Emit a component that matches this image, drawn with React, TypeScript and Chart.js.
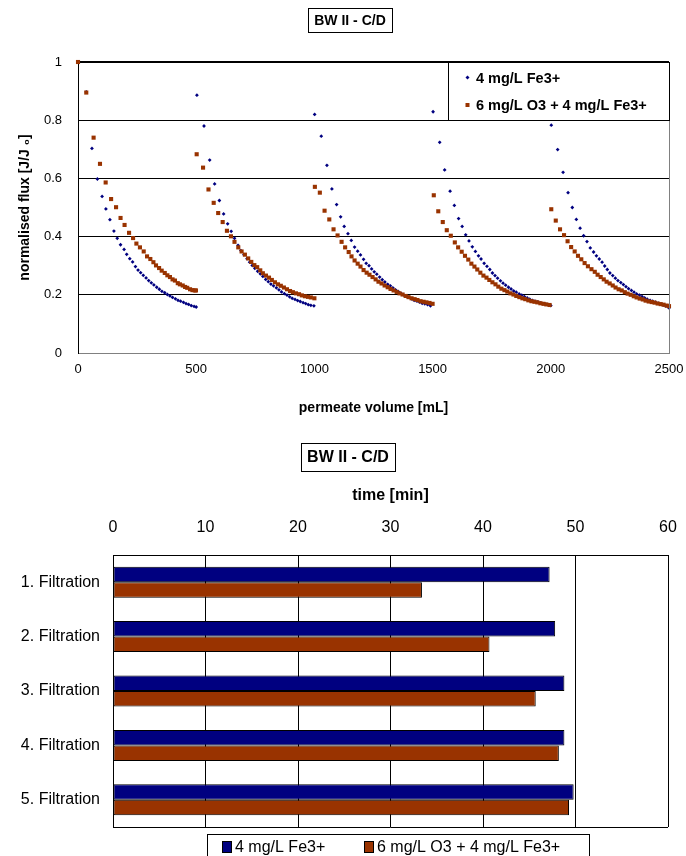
import React, { useEffect, useRef } from 'react';
import { Chart, registerables } from 'chart.js';

Chart.register(...registerables);

const FONT = "'Liberation Sans', Arial, Helvetica, sans-serif";
const NAVY = '#000080';
const BROWN = '#993300';

const CHART_TITLE = 'BW II - C/D';
const SERIES = ['4 mg/L Fe3+', '6 mg/L O3 + 4 mg/L Fe3+'];

// ---- Top chart: normalised flux vs permeate volume [mL], [volume, J/J0] ----
const FE_CYCLE_1 = [[0,1.0],[35,0.897],[59,0.703],[82,0.598],[102,0.538],[118,0.495],[135,0.458],[152,0.419],[166,0.394],[180,0.372],[195,0.356],[206,0.339],[219,0.324],[231,0.313],[243,0.297],[254,0.285],[265,0.276],[276,0.267],[288,0.258],[299,0.249],[310,0.241],[321,0.234],[333,0.226],[344,0.219],[355,0.212],[367,0.207],[378,0.201],[389,0.196],[400,0.191],[412,0.186],[423,0.181],[434,0.178],[446,0.174],[457,0.170],[468,0.167],[479,0.163],[491,0.160],[500,0.158]];
const FE_CYCLE_2 = [[503,0.886],[533,0.780],[557,0.663],[578,0.581],[598,0.524],[616,0.478],[633,0.444],[648,0.418],[662,0.394],[677,0.370],[689,0.352],[702,0.338],[715,0.324],[726,0.312],[737,0.301],[748,0.291],[760,0.281],[771,0.272],[782,0.263],[794,0.253],[805,0.245],[816,0.237],[827,0.231],[839,0.224],[850,0.217],[861,0.210],[873,0.204],[884,0.199],[895,0.193],[906,0.188],[918,0.184],[929,0.180],[940,0.177],[952,0.173],[963,0.170],[974,0.166],[985,0.164],[998,0.162]];
const FE_CYCLE_3 = [[1001,0.820],[1029,0.745],[1053,0.645],[1074,0.564],[1094,0.510],[1111,0.468],[1126,0.435],[1142,0.410],[1156,0.387],[1170,0.364],[1183,0.350],[1195,0.337],[1208,0.322],[1219,0.308],[1231,0.300],[1242,0.289],[1253,0.279],[1264,0.271],[1276,0.261],[1287,0.252],[1298,0.244],[1310,0.236],[1321,0.231],[1332,0.224],[1343,0.217],[1355,0.211],[1366,0.205],[1377,0.200],[1389,0.195],[1400,0.191],[1411,0.186],[1422,0.181],[1434,0.178],[1445,0.175],[1456,0.171],[1467,0.169],[1479,0.166],[1491,0.162]];
const FE_CYCLE_4 = [[1502,0.829],[1530,0.724],[1551,0.629],[1574,0.556],[1592,0.507],[1610,0.462],[1625,0.435],[1640,0.406],[1654,0.385],[1668,0.365],[1681,0.349],[1694,0.334],[1705,0.323],[1718,0.308],[1730,0.298],[1742,0.287],[1753,0.275],[1764,0.266],[1775,0.257],[1787,0.248],[1798,0.240],[1809,0.233],[1821,0.226],[1832,0.220],[1843,0.213],[1854,0.209],[1866,0.203],[1877,0.199],[1888,0.194],[1900,0.189],[1911,0.185],[1922,0.181],[1933,0.178],[1945,0.176],[1956,0.172],[1967,0.170],[1979,0.168],[1990,0.165],[2000,0.163]];
const FE_CYCLE_5 = [[2002,0.783],[2029,0.699],[2052,0.621],[2073,0.551],[2091,0.500],[2108,0.459],[2124,0.429],[2139,0.403],[2153,0.383],[2167,0.361],[2181,0.347],[2193,0.334],[2205,0.323],[2217,0.312],[2228,0.299],[2239,0.287],[2250,0.275],[2262,0.266],[2273,0.257],[2284,0.249],[2296,0.242],[2307,0.235],[2318,0.228],[2329,0.221],[2341,0.215],[2352,0.209],[2363,0.203],[2375,0.199],[2386,0.194],[2397,0.189],[2408,0.185],[2420,0.181],[2431,0.178],[2442,0.175],[2454,0.171],[2465,0.168],[2476,0.165],[2487,0.161],[2500,0.155]];

const O3_CYCLE_1 = [[0,1.0],[35,0.895],[66,0.740],[93,0.650],[117,0.586],[140,0.529],[161,0.501],[180,0.464],[197,0.440],[216,0.413],[233,0.395],[247,0.376],[262,0.363],[278,0.349],[292,0.332],[306,0.323],[319,0.312],[330,0.301],[343,0.292],[354,0.283],[367,0.275],[378,0.267],[389,0.261],[400,0.253],[410,0.249],[422,0.240],[431,0.236],[443,0.232],[453,0.227],[462,0.224],[474,0.219],[484,0.216],[494,0.215],[499,0.215]];
const O3_CYCLE_2 = [[502,0.683],[529,0.637],[552,0.562],[574,0.516],[593,0.481],[612,0.450],[630,0.420],[647,0.401],[662,0.382],[678,0.363],[692,0.349],[706,0.338],[720,0.325],[733,0.313],[746,0.302],[758,0.295],[771,0.284],[782,0.274],[795,0.266],[808,0.259],[820,0.251],[833,0.243],[846,0.236],[858,0.231],[871,0.225],[884,0.219],[897,0.213],[909,0.209],[922,0.205],[935,0.202],[947,0.198],[960,0.195],[973,0.193],[985,0.191],[1000,0.188]];
const O3_CYCLE_3 = [[1002,0.571],[1023,0.551],[1043,0.489],[1063,0.459],[1081,0.425],[1098,0.404],[1115,0.382],[1130,0.363],[1145,0.347],[1157,0.332],[1170,0.318],[1183,0.307],[1195,0.297],[1208,0.285],[1221,0.276],[1233,0.269],[1246,0.261],[1259,0.253],[1271,0.245],[1284,0.239],[1297,0.232],[1310,0.226],[1322,0.220],[1335,0.215],[1348,0.210],[1360,0.205],[1373,0.201],[1386,0.196],[1398,0.192],[1411,0.188],[1424,0.185],[1436,0.182],[1449,0.178],[1462,0.176],[1474,0.174],[1487,0.172],[1500,0.169]];
const O3_CYCLE_4 = [[1505,0.542],[1524,0.487],[1543,0.450],[1560,0.422],[1577,0.403],[1594,0.380],[1608,0.363],[1623,0.348],[1637,0.334],[1651,0.321],[1664,0.307],[1677,0.297],[1689,0.287],[1702,0.276],[1715,0.266],[1728,0.259],[1740,0.251],[1753,0.243],[1766,0.236],[1778,0.228],[1791,0.221],[1804,0.216],[1816,0.211],[1829,0.205],[1842,0.201],[1854,0.196],[1867,0.192],[1880,0.188],[1892,0.185],[1905,0.181],[1918,0.178],[1931,0.176],[1943,0.174],[1956,0.171],[1969,0.169],[1981,0.167],[1995,0.165]];
const O3_CYCLE_5 = [[2002,0.494],[2021,0.455],[2039,0.425],[2056,0.405],[2071,0.384],[2086,0.364],[2101,0.349],[2115,0.334],[2129,0.322],[2143,0.309],[2157,0.298],[2172,0.288],[2186,0.279],[2198,0.269],[2211,0.261],[2224,0.253],[2236,0.245],[2249,0.239],[2262,0.232],[2274,0.225],[2287,0.219],[2300,0.215],[2313,0.209],[2325,0.204],[2338,0.200],[2351,0.195],[2363,0.191],[2376,0.187],[2389,0.184],[2401,0.180],[2414,0.177],[2427,0.175],[2439,0.173],[2452,0.170],[2465,0.168],[2477,0.166],[2490,0.163],[2500,0.161]];

const X_TITLE_TOP = 'permeate volume [mL]';
const Y_TITLE_TOP = 'normalised flux [J/J \u2080]';

// ---- Bottom chart: filtration time [min] ----
const FILTRATIONS = ['1. Filtration', '2. Filtration', '3. Filtration', '4. Filtration', '5. Filtration'];
const TIME_FE = [47.2, 47.8, 48.8, 48.8, 49.8];
const TIME_O3 = [33.4, 40.7, 45.7, 48.2, 49.3];
const X_TITLE_BOTTOM = 'time [min]';

const toXY = (arr: number[][]) => arr.map(([x, y]) => ({ x, y }));
const plainNum = (v: any) => String(Math.round(Number(v) * 10) / 10);

function titleBoxPlugin(id: string, cx: number, cy: number, size: number, padX: number, h: number) {
  return {
    id,
    afterDraw(chart: any) {
      const ctx = chart.ctx;
      ctx.save();
      ctx.font = `bold ${size}px ${FONT}`;
      const w = ctx.measureText(CHART_TITLE).width + padX * 2;
      ctx.fillStyle = '#fff';
      ctx.fillRect(cx - w / 2, cy - h / 2, w, h);
      ctx.strokeStyle = '#000';
      ctx.lineWidth = 1;
      ctx.strokeRect(Math.round(cx - w / 2) + 0.5, Math.round(cy - h / 2) + 0.5, Math.round(w), Math.round(h));
      ctx.fillStyle = '#000';
      ctx.textAlign = 'center';
      ctx.textBaseline = 'middle';
      ctx.fillText(CHART_TITLE, cx, cy + 1);
      ctx.restore();
    },
  };
}

const topFramePlugin = {
  id: 'topFrame',
  afterDatasetsDraw(chart: any) {
    const { ctx, chartArea } = chart;
    ctx.save();
    ctx.strokeStyle = '#808080';
    ctx.lineWidth = 1;
    ctx.beginPath();
    ctx.moveTo(Math.round(chartArea.right) + 0.5, chartArea.top);
    ctx.lineTo(Math.round(chartArea.right) + 0.5, chartArea.bottom);
    ctx.stroke();
    // legend box
    const lx = 448, ly = chartArea.top, lw = Math.round(chartArea.right) - 448, lh = 58;
    ctx.fillStyle = '#fff';
    ctx.fillRect(lx, ly, lw, lh);
    ctx.strokeStyle = '#000';
    ctx.strokeRect(lx + 0.5, ly + 0.5, lw, lh);
    ctx.font = `bold 14.5px ${FONT}`;
    ctx.textBaseline = 'middle';
    ctx.textAlign = 'left';
    ctx.fillStyle = NAVY;
    ctx.beginPath();
    const dx = 467.5, dy = ly + 15.5, r = 2;
    ctx.moveTo(dx - r, dy); ctx.lineTo(dx, dy - r); ctx.lineTo(dx + r, dy); ctx.lineTo(dx, dy + r);
    ctx.closePath();
    ctx.fill();
    ctx.fillStyle = '#000';
    ctx.fillText(SERIES[0], 476, dy + 1);
    ctx.fillStyle = BROWN;
    const sy = ly + 43;
    ctx.fillRect(465.5, sy - 2, 4, 4);
    ctx.fillStyle = '#000';
    ctx.fillText(SERIES[1], 476, sy + 1);
    ctx.restore();
  },
};

const bottomFramePlugin = {
  id: 'bottomFrame',
  afterDraw(chart: any) {
    const { ctx, chartArea } = chart;
    ctx.save();
    ctx.strokeStyle = '#000';
    ctx.lineWidth = 1;
    ctx.beginPath();
    ctx.moveTo(chartArea.left, Math.round(chartArea.bottom) + 0.5);
    ctx.lineTo(chartArea.right, Math.round(chartArea.bottom) + 0.5);
    ctx.stroke();
    const lx = 207, ly = 409, lw = 382;
    ctx.fillStyle = '#fff';
    ctx.fillRect(lx, ly, lw, 40);
    ctx.strokeStyle = '#000';
    ctx.strokeRect(lx + 0.5, ly + 0.5, lw, 40);
    ctx.font = `16px ${FONT}`;
    ctx.textBaseline = 'middle';
    ctx.textAlign = 'left';
    const cy = 422;
    const items = [
      { x: 222, color: NAVY, text: SERIES[0], tx: 235 },
      { x: 364, color: BROWN, text: SERIES[1], tx: 377 },
    ];
    for (const it of items) {
      ctx.fillStyle = it.color;
      ctx.fillRect(it.x, cy - 6, 10, 12);
      ctx.strokeStyle = '#000';
      ctx.strokeRect(it.x + 0.5, cy - 6 + 0.5, 9, 11);
      ctx.fillStyle = '#000';
      ctx.fillText(it.text, it.tx, cy + 1);
    }
    ctx.restore();
  },
};

function TopChart() {
  const ref = useRef<HTMLCanvasElement>(null);
  useEffect(() => {
    if (!ref.current) return;
    const fe = [FE_CYCLE_1, FE_CYCLE_2, FE_CYCLE_3, FE_CYCLE_4, FE_CYCLE_5].flatMap(toXY);
    const o3 = [O3_CYCLE_1, O3_CYCLE_2, O3_CYCLE_3, O3_CYCLE_4, O3_CYCLE_5].flatMap(toXY);
    const chart = new Chart(ref.current, {
      type: 'scatter',
      data: {
        datasets: [
          { label: SERIES[0], data: fe, pointStyle: 'rectRot', pointRadius: 1.9, backgroundColor: NAVY, borderColor: NAVY, borderWidth: 0, order: 2, clip: false } as any,
          { label: SERIES[1], data: o3, pointStyle: 'rect', pointRadius: 2.9, backgroundColor: BROWN, borderColor: BROWN, borderWidth: 0, order: 1, clip: false } as any,
        ],
      },
      options: {
        responsive: false,
        animation: false,
        events: [],
        layout: { padding: { top: 62, right: 17, bottom: 0, left: 0 } },
        plugins: { legend: { display: false }, tooltip: { enabled: false }, title: { display: false } },
        scales: {
          x: {
            type: 'linear', min: 0, max: 2500,
            ticks: { stepSize: 500, color: '#000', font: { family: FONT, size: 13 }, padding: 0, maxRotation: 0, callback: plainNum },
            grid: { display: true, drawOnChartArea: false, drawTicks: true, tickLength: 9, tickColor: 'rgba(0,0,0,0)' },
            border: { display: true, color: '#808080', width: 1 },
            title: { display: true, text: X_TITLE_TOP, color: '#000', font: { family: FONT, size: 14, weight: 'bold' }, padding: { top: 0, bottom: 8.6 } },
            afterFit: (s: any) => { s.height = 72; },
          },
          y: {
            type: 'linear', min: 0, max: 1,
            ticks: { stepSize: 0.2, color: '#000', font: { family: FONT, size: 13 }, padding: 16, callback: plainNum },
            grid: {
              drawTicks: false,
              color: (c: any) => (c.tick && c.tick.value === 0 ? '#808080' : '#000'),
              lineWidth: (c: any) => (c.tick && c.tick.value === 1 ? 2 : 1),
            },
            border: { display: true, color: '#000', width: 1 },
            title: { display: true, text: Y_TITLE_TOP, color: '#000', font: { family: FONT, size: 14, weight: 'bold' }, padding: { top: 17, bottom: 0 } },
            afterFit: (s: any) => { s.width = 78; },
          },
        },
      } as any,
      plugins: [topFramePlugin, titleBoxPlugin('topTitle', 350, 20, 14, 6, 24)],
    });
    return () => chart.destroy();
  }, []);
  return <canvas ref={ref} width={686} height={425} style={{ position: 'absolute', left: 0, top: 0, width: 686, height: 425 }} />;
}

function BottomChart() {
  const ref = useRef<HTMLCanvasElement>(null);
  useEffect(() => {
    if (!ref.current) return;
    const chart = new Chart(ref.current, {
      type: 'bar',
      data: {
        labels: FILTRATIONS,
        datasets: [
          { label: SERIES[0], data: TIME_FE, backgroundColor: NAVY, borderColor: '#000', borderWidth: 1, borderSkipped: false, barPercentage: 1, categoryPercentage: 0.57 },
          { label: SERIES[1], data: TIME_O3, backgroundColor: BROWN, borderColor: '#000', borderWidth: 1, borderSkipped: false, barPercentage: 1, categoryPercentage: 0.57 },
        ],
      },
      options: {
        indexAxis: 'y',
        responsive: false,
        animation: false,
        events: [],
        layout: { padding: { top: 0, right: 18, bottom: 29, left: 0 } },
        plugins: { legend: { display: false }, tooltip: { enabled: false }, title: { display: false } },
        scales: {
          x: {
            position: 'top', type: 'linear', min: 0, max: 60,
            ticks: { stepSize: 10, color: '#000', font: { family: FONT, size: 16 }, padding: 0, maxRotation: 0, callback: plainNum },
            grid: { color: '#000', lineWidth: 1, drawTicks: true, tickLength: 17.4, tickColor: 'rgba(0,0,0,0)' },
            border: { display: true, color: '#000', width: 1 },
            title: { display: true, text: X_TITLE_BOTTOM, color: '#000', font: { family: FONT, size: 16, weight: 'bold' }, padding: { top: 61.4, bottom: 0 } },
            afterFit: (s: any) => { s.height = 130; },
          },
          y: {
            type: 'category',
            ticks: { color: '#000', font: { family: FONT, size: 16 }, padding: 13 },
            grid: { display: false, drawTicks: false },
            border: { display: true, color: '#000', width: 1 },
            afterFit: (s: any) => { s.width = 113; },
          },
        },
      } as any,
      plugins: [bottomFramePlugin, titleBoxPlugin('bottomTitle', 348, 32, 16, 6, 28)],
    });
    return () => chart.destroy();
  }, []);
  return <canvas ref={ref} width={686} height={431} style={{ position: 'absolute', left: 0, top: 425, width: 686, height: 431 }} />;
}

export default function App() {
  return (
    <div style={{ position: 'absolute', left: 0, top: 0, width: 686, height: 856, background: '#fff', overflow: 'hidden' }}>
      <TopChart />
      <BottomChart />
    </div>
  );
}
